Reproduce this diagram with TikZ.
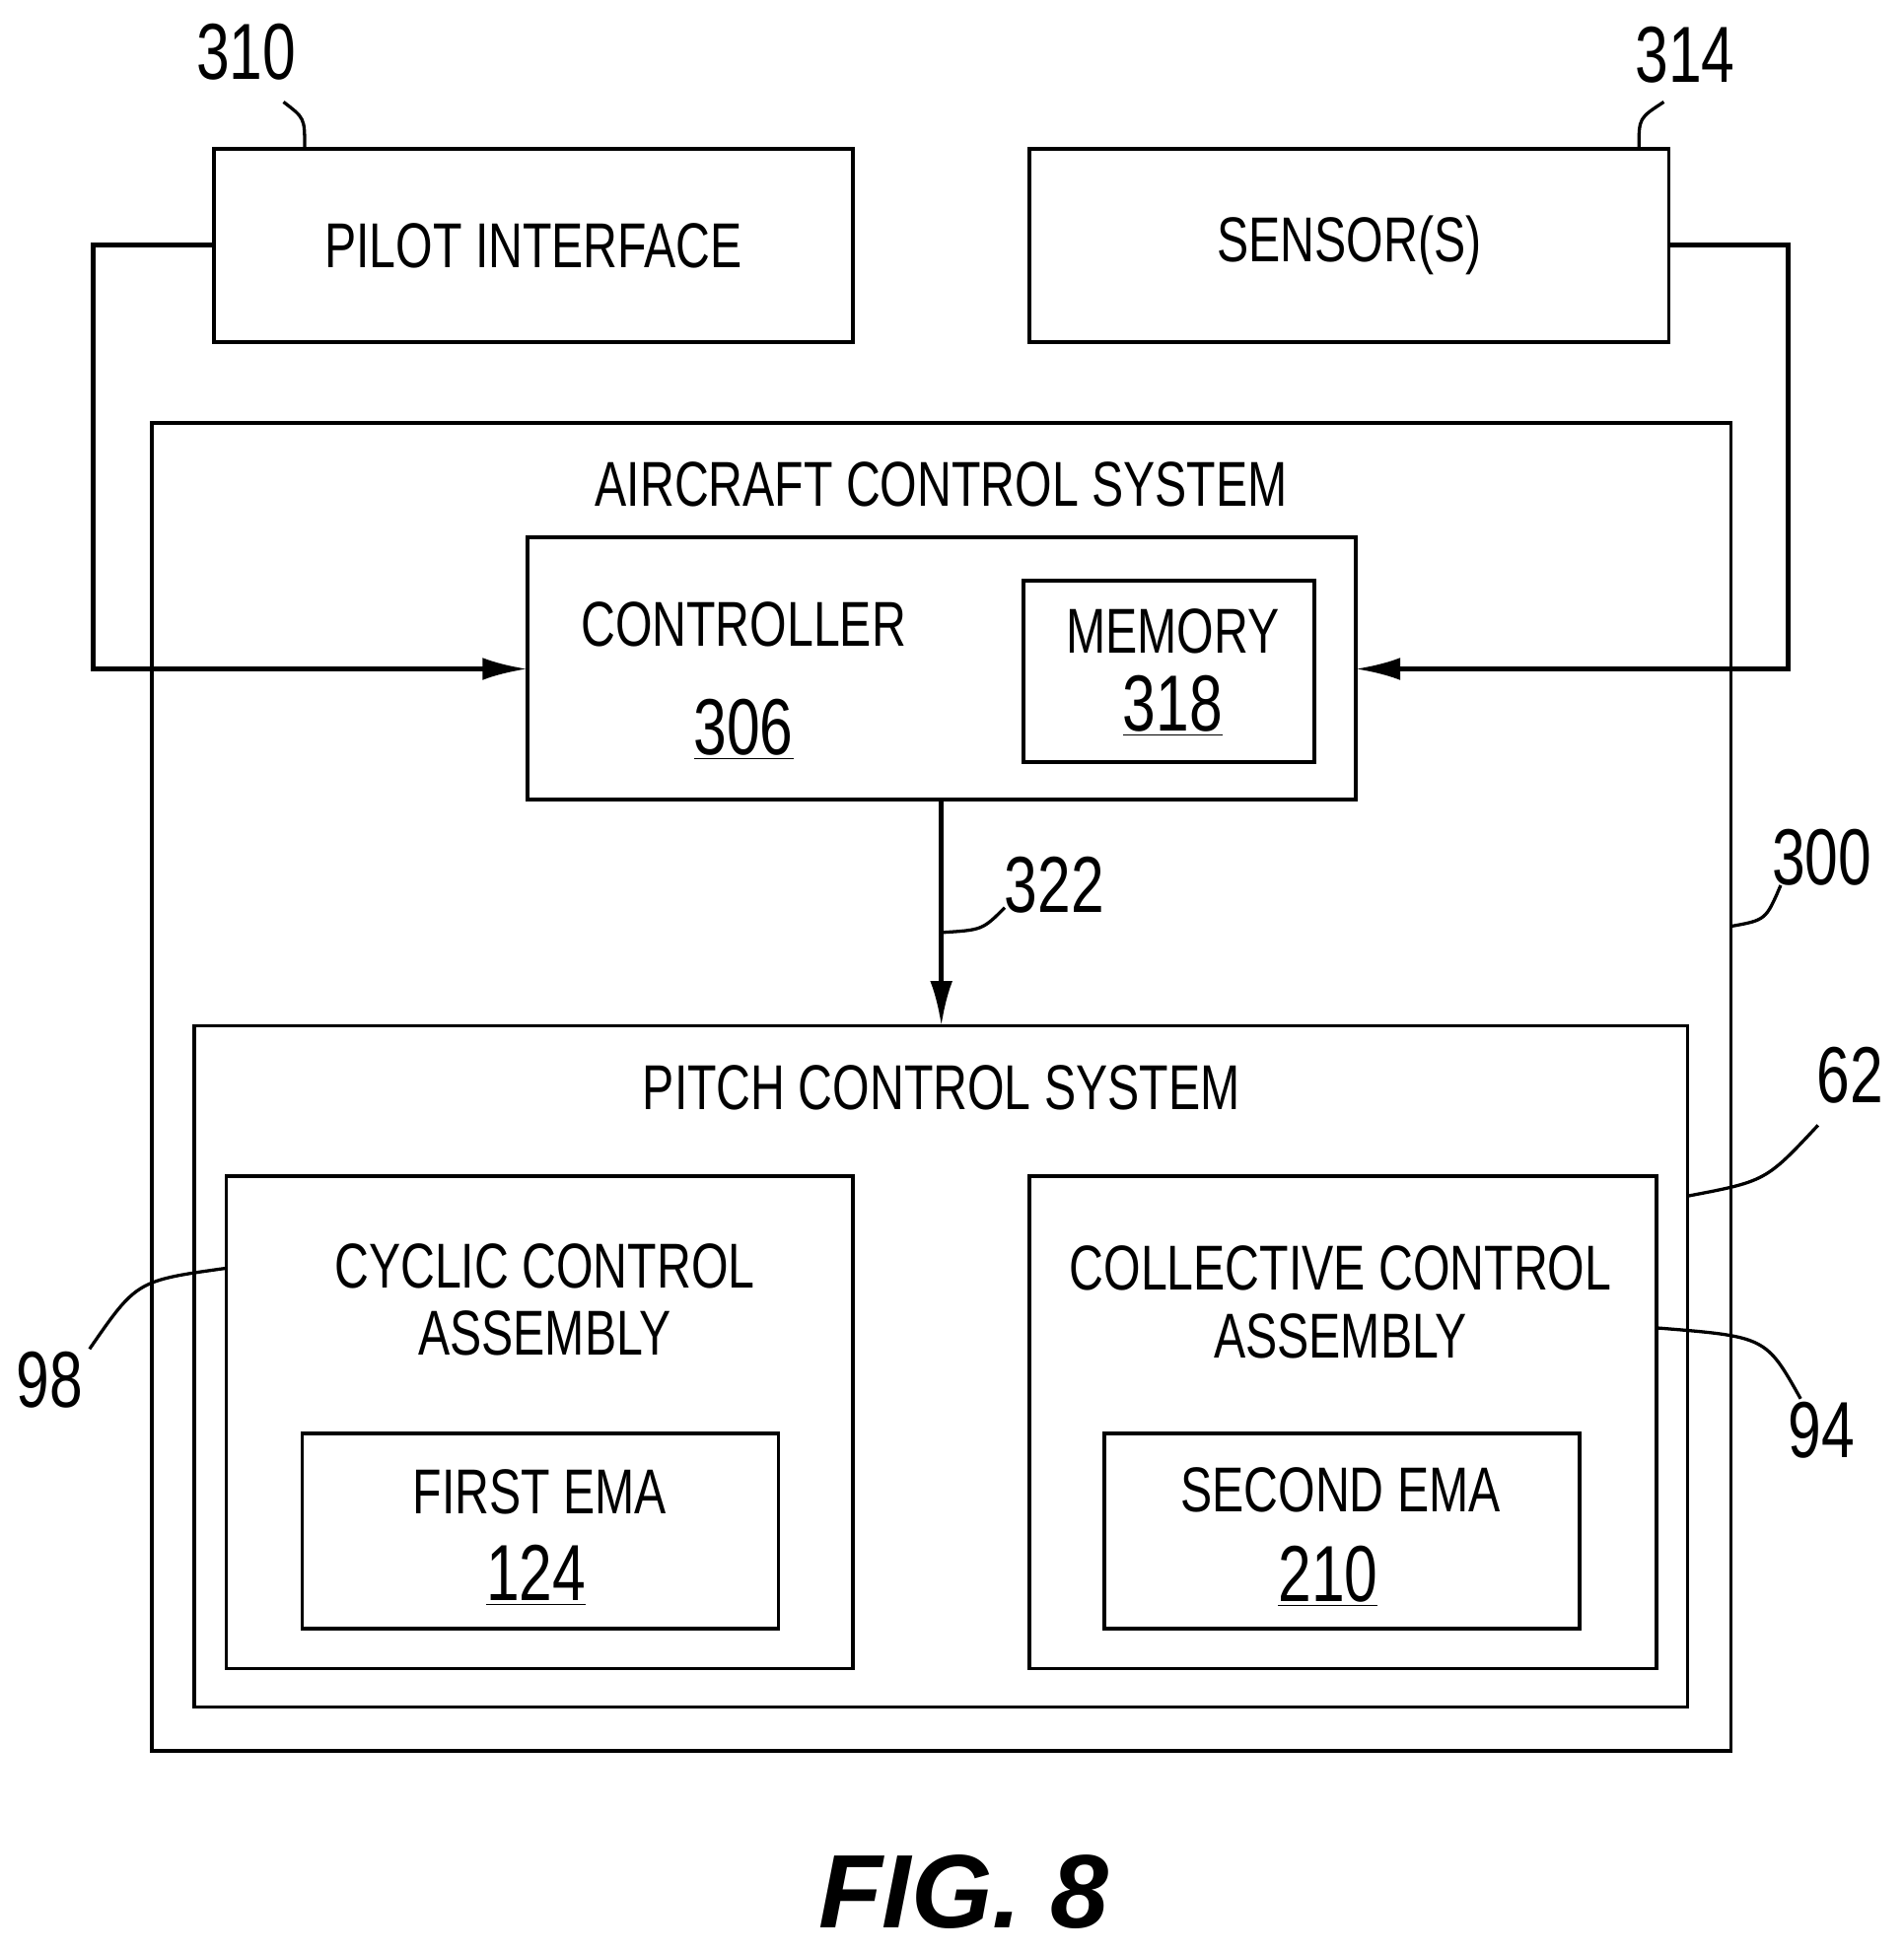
\documentclass[tikz,border=0pt]{standalone}
\usepackage{fontspec}
\setmainfont[FakeStretch=0.75]{Liberation Sans}
\newfontfamily\figfont{Liberation Sans}
\usetikzlibrary{arrows.meta}
\newcommand{\ul}[1]{\underline{#1}}
\begin{document}
\begin{tikzpicture}[x=0.5pt,y=-0.5pt,
  box/.style={draw,line width=1.5pt},
  lbl/.style={font=\fontsize{25.5}{28}\selectfont,inner sep=0pt},
  num/.style={font=\fontsize{32}{34}\selectfont,inner sep=0pt},
  lead/.style={line width=1.3pt},
  wire/.style={line width=1.8pt},
  arr/.style={wire,-{Latex[length=18pt,width=9pt]}}]
\useasboundingbox (0,0) rectangle (1531,1570);
% boxes
\draw[box] (172,120) rectangle (686,275) node[midway,lbl] (pi) {PILOT INTERFACE};
\draw[box] (828,120) rectangle (1342,275) node[midway,lbl] (se) {SENSOR(S)};
\draw[box] (122,340) rectangle (1392,1408);
\node[lbl] (acs) at (757,390) {AIRCRAFT CONTROL SYSTEM};
\draw[box] (424,432) rectangle (1090,643);
\node[lbl] (ctl) at (598,502) {CONTROLLER};
\node[num] (n306) at (598,587) {\ul{306}};
\draw[box] (823,467) rectangle (1057,613);
\node[lbl] (mem) at (943,508) {MEMORY};
\node[num] (n318) at (943,568) {\ul{318}};
\draw[box] (156,825) rectangle (1357,1373);
\node[lbl] (pcs) at (757,875) {PITCH CONTROL SYSTEM};
\draw[box] (182,946) rectangle (686,1342);
\node[lbl] (cy1) at (438,1018) {CYCLIC CONTROL};
\node[lbl] (cy2) at (438,1072) {ASSEMBLY};
\draw[box] (243,1153) rectangle (626,1310);
\node[lbl] (fe) at (434,1200) {FIRST EMA};
\node[num] (n124) at (431,1267) {\ul{124}};
\draw[box] (828,946) rectangle (1332,1342);
\node[lbl] (co1) at (1078,1020) {COLLECTIVE CONTROL};
\node[lbl] (co2) at (1078,1075) {ASSEMBLY};
\draw[box] (888,1153) rectangle (1270,1310);
\node[lbl] (sem) at (1078,1198) {SECOND EMA};
\node[num] (n210) at (1068,1268) {\ul{210}};
% connectors
\coordinate (pl) at (172,197); \coordinate (cl) at (424,538);
\coordinate (sr) at (1342,197); \coordinate (cr) at (1090,538);
\coordinate (cb) at (757,643); \coordinate (pt) at (757,825);
\draw[arr] (pl) -- (75,197) -- (75,538) -- (cl);
\draw[arr] (sr) -- (1438,197) -- (1438,538) -- (cr);
\draw[arr] (cb) -- (pt);
% reference numerals
\node[num] (n310) at (198,42) {310};
\node[num] (n314) at (1355,44) {314};
\node[num] (n300) at (1465,690) {300};
\node[num] (n322) at (848,712) {322};
\node[num] (n62) at (1488,865) {62};
\node[num] (n98) at (40,1110) {98};
\node[num] (n94) at (1465,1150) {94};
\draw[lead] (245,118) .. controls (245,95) .. (228,82);
\draw[lead] (1318,118) .. controls (1318,95) .. (1338,82);
\draw[lead] (1392,745) .. controls (1420,740) .. (1432,712);
\draw[lead] (757,750) .. controls (790,748) .. (808,730);
\draw[lead] (1357,962) .. controls (1420,950) .. (1462,905);
\draw[lead] (182,1020) .. controls (110,1030) .. (72,1085);
\draw[lead] (1332,1068) .. controls (1420,1075) .. (1448,1125);
\node[font=\figfont\fontsize{42}{46}\selectfont\bfseries\itshape,inner sep=0pt] (fig) at (775,1522) {FIG. 8};
\end{tikzpicture}
\end{document}
